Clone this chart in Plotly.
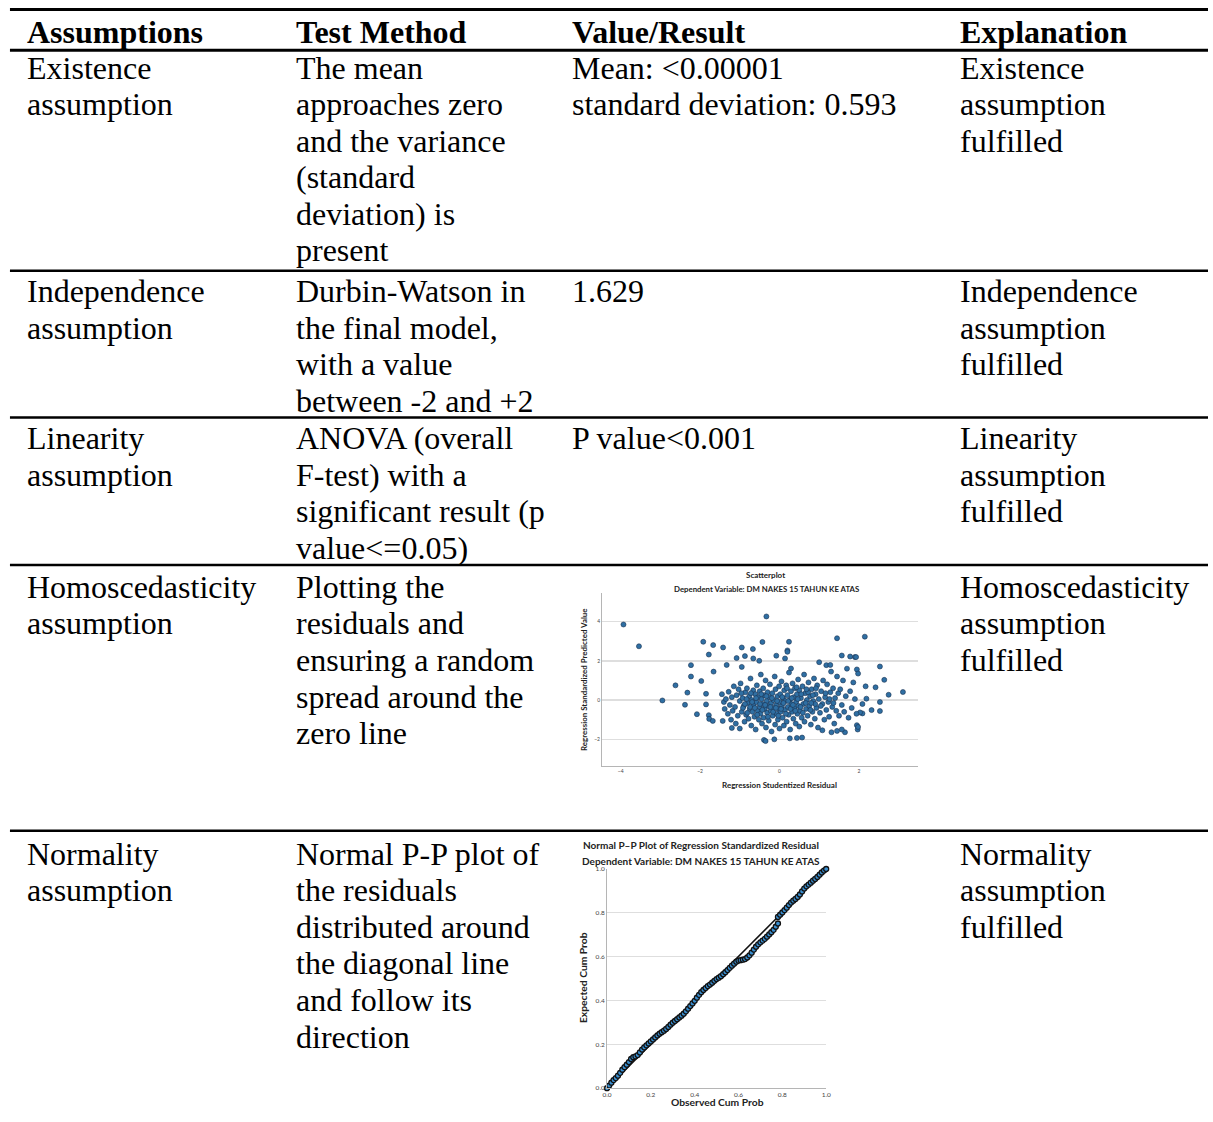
import plotly.graph_objects as go

W, H = 1213, 1122

# ---------------- table content ----------------
headers = ["Assumptions", "Test Method", "Value/Result", "Explanation"]

assumption_col = [
    ["Existence", "assumption"],
    ["Independence", "assumption"],
    ["Linearity", "assumption"],
    ["Homoscedasticity", "assumption"],
    ["Normality", "assumption"],
]
method_col = [
    ["The mean", "approaches zero", "and the variance", "(standard", "deviation) is", "present"],
    ["Durbin-Watson in", "the final model,", "with a value", "between -2 and +2"],
    ["ANOVA (overall", "F-test) with a", "significant result (p", "value&lt;=0.05)"],
    ["Plotting the", "residuals and", "ensuring a random", "spread around the", "zero line"],
    ["Normal P-P plot of", "the residuals", "distributed around", "the diagonal line", "and follow its", "direction"],
]
value_col = [
    ["Mean: &lt;0.00001", "standard deviation: 0.593"],
    ["1.629"],
    ["P value&lt;0.001"],
    [],
    [],
]
explanation_col = [
    ["Existence", "assumption", "fulfilled"],
    ["Independence", "assumption", "fulfilled"],
    ["Linearity", "assumption", "fulfilled"],
    ["Homoscedasticity", "assumption", "fulfilled"],
    ["Normality", "assumption", "fulfilled"],
]

# ---------------- scatterplot data (studentized residual, standardized predicted) ----------------
resid_x = [
    -3.93, -3.54, -2.95, -2.62, -2.38, -2.32, -2.23, -2.23, -2.08, -1.97, -1.92, -1.85, -1.85, -1.78,
    -1.67, -1.66, -1.78, -1.77, -1.68, -1.42, -1.33, -1.43, -1.20, -1.08, -0.95, -0.95, -0.87, -0.67,
    -0.66, -0.51, -0.43, -0.33, -0.39, -0.35, -0.13, -0.08, 0.14, 0.20, 0.20, 0.24, 0.26, 0.44, 0.29,
    1.00, 1.18, 1.28, 1.45, 1.57, 1.78, 1.90, 1.93, 2.15, 2.17, 1.95, 1.95, 1.97, 1.98, 2.53, 2.53,
    2.53, 2.64, 2.75, 3.11, 2.42, 2.19, 2.09, 2.32, 2.09, 2.03, 1.45, 1.65, 1.31, 1.08, 1.57, 0.57,
    -1.45, -1.40, -1.38, -1.35, -1.30, -1.28, -1.25, -1.22, -1.20, -1.18, -1.15, -1.12, -1.10, -1.08,
    -1.05, -1.03, -1.00, -1.00,
    -0.98, -0.95, -0.93, -0.90, -0.88, -0.86, -0.84, -0.82, -0.80, -0.78, -0.76, -0.75, -0.73, -0.71,
    -0.70, -0.68, -0.66, -0.65, -0.63, -0.61, -0.60, -0.58, -0.57, -0.55, -0.53, -0.52, -0.50, -0.50,
    -0.48, -0.47, -0.45, -0.44, -0.42, -0.41, -0.40, -0.38, -0.37, -0.35, -0.34, -0.32, -0.31, -0.30,
    -0.28, -0.27, -0.25, -0.24, -0.22, -0.21, -0.20, -0.18, -0.17, -0.15, -0.14, -0.12, -0.11, -0.10,
    -0.08, -0.07, -0.05, -0.04, -0.02, -0.01, 0.00, 0.00,
    0.02, 0.03, 0.05, 0.06, 0.08, 0.09, 0.11, 0.12, 0.14, 0.15, 0.17, 0.18, 0.20, 0.21, 0.23, 0.24,
    0.26, 0.27, 0.29, 0.30, 0.32, 0.33, 0.35, 0.36, 0.38, 0.39, 0.41, 0.42, 0.44, 0.45, 0.47, 0.48,
    0.50, 0.50,
    0.52, 0.54, 0.56, 0.58, 0.60, 0.62, 0.63, 0.65, 0.67, 0.69, 0.71, 0.73, 0.75, 0.77, 0.79, 0.81,
    0.83, 0.85, 0.87, 0.89, 0.91, 0.93, 0.95, 0.97, 0.99,
    1.02, 1.05, 1.08, 1.10, 1.13, 1.15, 1.18, 1.20, 1.23, 1.25, 1.28, 1.30, 1.33, 1.35, 1.38, 1.40,
    1.43, 1.45, 1.48, 1.50,
    1.53, 1.57, 1.60, 1.63, 1.67, 1.70, 1.74, 1.78, 1.82, 1.86, 1.90, 1.94, 1.98,
    -0.92, -0.87, -0.81, -0.74, -0.69, -0.62, -0.56, -0.49, -0.43, -0.36, -0.29, -0.23, -0.16, -0.09,
    -0.03, 0.04, 0.10, 0.16, 0.22, 0.28, 0.34, 0.40, 0.46, 0.53, 0.59, 0.66, 0.72, 0.78, 0.84, 0.90,
    -0.96, -0.83, -0.72, -0.59, -0.46, -0.33, -0.19, -0.06, 0.07, 0.19, 0.31, 0.43, 0.55, 0.68, 0.80,
    0.92, 1.04, 1.16, 1.26, 1.36,
]
pred_y = [
    3.85, 2.74, -0.02, 0.75, -0.24, 0.38, 1.78, 1.20, -0.72, 0.97, 2.97, 0.32, -0.22, 2.32,
    2.80, 1.45, -0.77, -0.96, -1.06, 2.68, 1.79, -1.06, -1.42, 2.14, 2.68, 1.69, 2.24, 2.60,
    2.12, 2.00, 2.96, 4.26, -2.03, -2.09, -2.00, 2.26, 2.12, 2.53, 2.46, 2.97, -1.95, -1.93, 1.61,
    1.93, 1.78, 1.79, 3.15, 2.27, 2.22, 2.19, 2.19, 3.23, 0.70, 1.56, -1.28, -1.50, -1.37, 1.71, -0.10,
    -0.56, 1.03, 0.27, 0.41, 0.65, 0.07, -0.20, -0.51, -0.68, -0.63, -1.57, -1.64, -1.64, -1.54, -1.50, -1.91,
    0.30, -0.10, -0.45, 0.05, -0.70, 0.42, -0.25, -1.00, 0.15, -0.55, 0.70, -0.35, -1.20, 0.25,
    -0.80, 0.55, -0.05, -1.45,
    0.85, -0.60, 0.10, -0.30, -1.10, 0.40, -0.75, 0.60, -0.15, -0.95, 0.20, -0.45, 1.10, -1.30,
    0.00, -0.60, 0.50, -0.25, -0.85, 0.30, -1.50, -0.10, 0.75, -0.55, 0.15, -1.00, -0.35, 0.45,
    -0.70, 1.30, 0.05, -1.20, -0.20, 0.60, -0.90, 0.25, -0.45, 1.00, -1.40, -0.05, -0.65, 0.40,
    -0.30, -1.05, 0.15, 0.80, -0.55, -0.15, -1.60, 0.35, -0.80, 0.00, -0.40, 1.20, -1.25, 0.55,
    -0.25, -0.70, 0.20, -1.00, -0.45, 0.70, -0.10, -1.45,
    0.30, -0.60, 0.95, -0.30, -0.90, 0.10, -1.30, 0.50, -0.50, -0.05, 0.75, -1.10, 0.25, -0.35, -0.75, 1.40,
    0.00, -1.50, 0.45, -0.20, -0.60, 0.85, -0.95, 0.15, -0.40, 0.60, -1.20, -0.10, 0.30, -0.70, 1.05, -0.30,
    -1.35, 0.50,
    -0.55, 0.10, -0.90, 0.70, -0.20, 1.30, -1.10, 0.35, -0.45, 0.00, -0.80, 0.90, -0.30, 0.20, -1.25, 0.55,
    -0.60, -0.05, 1.10, -0.95, 0.30, -0.40, 0.75, -1.40, 0.05,
    -0.65, 0.45, -0.20, 1.00, -1.00, 0.15, -0.50, 0.80, -0.10, -0.85, 0.40, 1.45, -0.35, 0.60, -1.20, 0.10,
    -0.55, 1.20, 0.35, -0.80,
    0.55, -0.25, 1.00, -0.60, 0.20, 1.60, -0.90, 0.45, -0.40, 0.90, 0.05, -0.70, 1.35,
    -0.40, -0.20, -0.65, -0.35, -0.10, -0.40, -0.75, -0.20, -0.50, -0.25, -0.85, -0.35, -0.60, -0.40,
    -0.80, -0.45, -0.15, -0.70, -0.05, -0.45, -0.25, -0.55, 0.05, -0.35, -0.65, -0.15, 0.40, -0.50, 0.25, -0.20,
    0.35, 0.05, 0.35, 0.10, 0.30, 0.20, 0.10, -0.05, 0.15, 0.60, 0.10, 0.65, 0.30, 0.55, -0.15,
    0.60, -0.30, 0.35, 0.05, -0.15,
]

# ---------------- normal P-P plot data ----------------
observed_cum = [
    0.00, 0.01, 0.02, 0.03, 0.04, 0.05, 0.06, 0.07, 0.08, 0.09,
    0.10, 0.11, 0.12, 0.13, 0.14, 0.15, 0.16, 0.17, 0.18, 0.19,
    0.20, 0.21, 0.22, 0.23, 0.24, 0.25, 0.26, 0.27, 0.28, 0.29,
    0.30, 0.31, 0.32, 0.33, 0.34, 0.35, 0.36, 0.37, 0.38, 0.39,
    0.40, 0.41, 0.42, 0.43, 0.44, 0.45, 0.46, 0.47, 0.48, 0.49,
    0.50, 0.51, 0.52, 0.53, 0.54, 0.55, 0.56, 0.57, 0.58, 0.59,
    0.60, 0.61, 0.62, 0.63, 0.64, 0.65, 0.66, 0.67, 0.68, 0.69,
    0.70, 0.71, 0.72, 0.73, 0.74, 0.75, 0.76, 0.77, 0.78, 0.78, 0.79,
    0.80, 0.81, 0.82, 0.83, 0.84, 0.85, 0.86, 0.87, 0.88, 0.89,
    0.90, 0.91, 0.92, 0.93, 0.94, 0.95, 0.96, 0.97, 0.98, 0.99, 1.00,
]
expected_cum = [
    0.000, 0.012, 0.025, 0.037, 0.046, 0.057, 0.070, 0.084, 0.096, 0.107,
    0.119, 0.133, 0.141, 0.145, 0.151, 0.163, 0.176, 0.186, 0.195, 0.204,
    0.213, 0.222, 0.231, 0.240, 0.248, 0.255, 0.262, 0.270, 0.279, 0.289,
    0.298, 0.306, 0.314, 0.322, 0.330, 0.339, 0.350, 0.362, 0.374, 0.386,
    0.398, 0.412, 0.425, 0.437, 0.447, 0.456, 0.465, 0.472, 0.480, 0.489,
    0.497, 0.503, 0.510, 0.519, 0.528, 0.538, 0.548, 0.558, 0.567, 0.576,
    0.581, 0.583, 0.585, 0.588, 0.595, 0.605, 0.617, 0.631, 0.644, 0.655,
    0.664, 0.672, 0.680, 0.690, 0.700, 0.710, 0.721, 0.735, 0.750, 0.780, 0.790,
    0.800, 0.811, 0.822, 0.834, 0.845, 0.854, 0.862, 0.871, 0.882, 0.896,
    0.909, 0.919, 0.927, 0.936, 0.945, 0.953, 0.962, 0.972, 0.982, 0.991, 0.998,
]
diagonal = [0.0, 1.0]

scatter_xticks = [-4, -2, 0, 2]
scatter_yticks = [-2, 0, 2, 4]
pp_ticks = [0.0, 0.2, 0.4, 0.6, 0.8, 1.0]
pp_ticktext = ["0.0", "0.2", "0.4", "0.6", "0.8", "1.0"]


def px(x):
    return x / W


def py(y):
    return 1 - y / H


fig = go.Figure()

fig.add_trace(go.Scatter(
    x=resid_x, y=pred_y, mode="markers", xaxis="x", yaxis="y",
    marker=dict(size=5, color="#2f6fa3", line=dict(color="#1b3350", width=0.6)),
    cliponaxis=False, showlegend=False, hoverinfo="skip",
))
fig.add_trace(go.Scatter(
    x=diagonal, y=diagonal, mode="lines", xaxis="x2", yaxis="y2",
    line=dict(color="#111111", width=1.5), showlegend=False, hoverinfo="skip",
))
fig.add_trace(go.Scatter(
    x=observed_cum, y=expected_cum, mode="markers", xaxis="x2", yaxis="y2",
    marker=dict(size=5, color="#3a8fd0", line=dict(color="#111111", width=1.3)),
    cliponaxis=False, showlegend=False, hoverinfo="skip",
))

serif = "Liberation Serif, Times New Roman, serif"
sans = "Lato, Open Sans, sans-serif"
FS = 32
LINE = 36.8

annotations = []


def txt(x, y, s, size=FS, bold=False, family=serif, xanchor="left", angle=0, color="#000000"):
    annotations.append(dict(
        x=px(x), y=py(y), xref="paper", yref="paper", text=s, showarrow=False,
        xanchor=xanchor, yanchor="middle", textangle=angle, borderpad=0,
        font=dict(family=family, size=size, color=color, weight="bold" if bold else "normal"),
    ))


col_x = [21, 292, 571, 962]
header_y = 28
row_first_y = [64, 289, 437, 586.5, 855]

for cx, h in zip(col_x, headers):
    txt(cx, header_y, h, bold=True)

for r in range(5):
    for ci, col in enumerate([assumption_col, method_col, value_col, explanation_col]):
        for li, line in enumerate(col[r]):
            txt(col_x[ci], row_first_y[r] + li * LINE, line)

# scatter titles
txt(767, 575, "Scatterplot", size=8, bold=True, family=sans, xanchor="center", color="#222")
txt(768, 589, "Dependent Variable: DM NAKES 15 TAHUN KE ATAS", size=7.8, bold=True, family=sans, xanchor="center", color="#222")
txt(781, 786, "Regression Studentized Residual", size=8, bold=True, family=sans, xanchor="center", color="#222")
txt(584, 680, "Regression Standardized Predicted Value", size=7.9, bold=True, family=sans, xanchor="center", angle=-90, color="#222")

# P-P titles
txt(702, 846, "Normal P\u2013P Plot of Regression Standardized Residual", size=10, bold=True, family=sans, xanchor="center", color="#222")
txt(702, 862, "Dependent Variable: DM NAKES 15 TAHUN KE ATAS", size=10, bold=True, family=sans, xanchor="center", color="#222")
txt(718, 1105, "Observed Cum Prob", size=10.3, bold=True, family=sans, xanchor="center", color="#222")
txt(583, 980, "Expected Cum Prob", size=10.3, bold=True, family=sans, xanchor="center", angle=-90, color="#222")

rules = [5.5, 46.5, 268.5, 416, 564.5, 832]
shapes = []
for i, ry in enumerate(rules):
    shapes.append(dict(
        type="line", xref="paper", yref="paper", x0=px(5), x1=1, y0=py(ry), y1=py(ry),
        line=dict(color="#000000", width=3 if i < 2 else 2.5),
    ))

axis_common = dict(showline=True, linecolor="#b5b5b5", linewidth=1, zeroline=False, ticks="",
                   fixedrange=True)

fig.update_layout(
    width=W, height=H, autosize=False,
    margin=dict(l=0, r=0, t=0, b=0, pad=0),
    paper_bgcolor="white", plot_bgcolor="white",
    showlegend=False,
    annotations=annotations, shapes=shapes,
    xaxis=dict(domain=[px(602), px(921)], range=[-4.47, 3.5], tickvals=scatter_xticks,
               showgrid=False, anchor="y", tickfont=dict(family=sans, size=5, color="#444"), **axis_common),
    yaxis=dict(domain=[py(767), py(593)], range=[-3.37, 5.44], tickvals=scatter_yticks,
               showgrid=True, gridcolor="#dedede", gridwidth=1.5, anchor="x",
               tickfont=dict(family=sans, size=5, color="#444"), **axis_common),
    xaxis2=dict(domain=[px(607), px(828)], range=[0, 1], tickvals=pp_ticks, ticktext=pp_ticktext,
                showgrid=False, anchor="y2", tickfont=dict(family=sans, size=6.5, color="#444"), **axis_common),
    yaxis2=dict(domain=[py(1091), py(870)], range=[0, 1], tickvals=pp_ticks, ticktext=pp_ticktext,
                showgrid=True, gridcolor="#dedede", gridwidth=1.2, anchor="x2",
                tickfont=dict(family=sans, size=6.5, color="#444"), **axis_common),
)

post = (
    "var s=document.createElement('style');"
    "s.innerHTML='html,body{margin:0!important;padding:0!important;overflow:hidden!important;}';"
    "document.head.appendChild(s);"
)
fig.write_html("out.html", config={"staticPlot": True}, post_script=post)
